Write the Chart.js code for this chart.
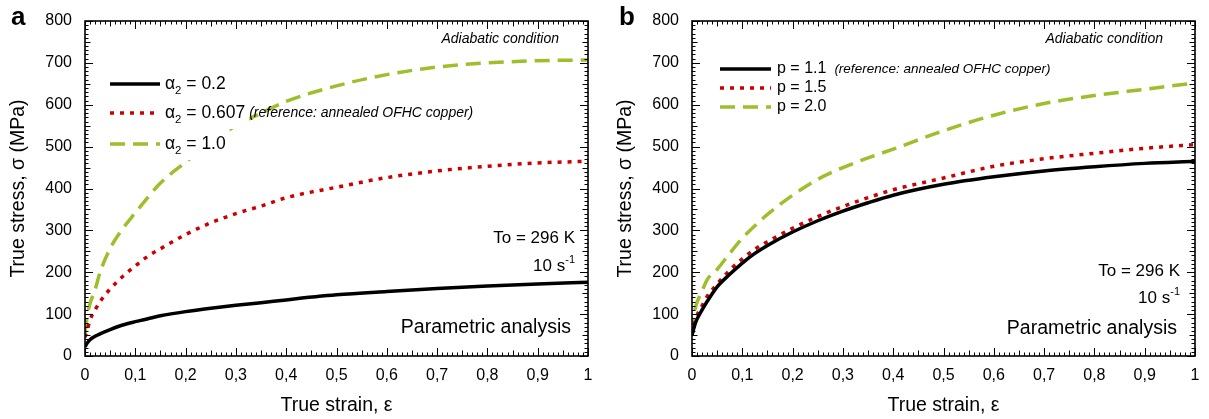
<!DOCTYPE html>
<html>
<head>
<meta charset="utf-8">
<script src="https://cdn.jsdelivr.net/npm/chart.js@4.4.0/dist/chart.umd.min.js"></script>
<style>
html, body { margin: 0; padding: 0; background: #fff; }
#wrap { position: relative; width: 1209px; height: 419px; }
.pane { position: absolute; top: 0; height: 419px; }
</style>
</head>
<body>
<div id="wrap">
    <div class="pane" style="left:0;width:604px"><canvas id="chartA"></canvas></div>
    <div class="pane" style="left:604px;width:605px"><canvas id="chartB"></canvas></div>
</div>
<script>
// strain points shared by all curves
const strain = [0, 0.005, 0.01, 0.02, 0.03, 0.05, 0.075, 0.1, 0.125, 0.15, 0.2, 0.25, 0.3, 0.35, 0.4, 0.5, 0.6, 0.7, 0.8, 0.9, 1.0];

// panel a: alpha2 parametric study (MPa)
const aAlpha02   = [22, 32, 39, 47, 53, 63, 74, 82, 89, 96, 106, 114, 121, 127, 134, 146, 154, 161, 167, 172, 176];
const aAlpha0607 = [45, 64, 86, 110, 130, 160, 190, 215, 238, 256, 290, 318, 340, 358, 378, 403, 426, 442, 453, 461, 465];
const aAlpha1    = [55, 100, 125, 158, 200, 257, 304, 342, 379, 413, 463, 510, 550, 580, 608, 645, 672, 690, 700, 705, 707];

// panel b: p parametric study (MPa)
const bP11 = [50, 72, 88, 110, 130, 165, 195, 222, 245, 264, 296, 323, 346, 366, 384, 410, 428, 442, 452, 460, 465];
const bP15 = [50, 78, 97, 120, 142, 172, 205, 232, 255, 273, 305, 333, 357, 378, 397, 425, 453, 471, 484, 496, 505];
const bP20 = [55, 105, 128, 155, 182, 207, 245, 281, 311, 338, 384, 422, 450, 473, 494, 538, 575, 603, 622, 637, 652];

const xTicks = [0, 0.1, 0.2, 0.3, 0.4, 0.5, 0.6, 0.7, 0.8, 0.9, 1];
const yTicks = [0, 100, 200, 300, 400, 500, 600, 700, 800];

const FONT = '"Liberation Sans", Arial, sans-serif';
const BLACK = '#000000', RED = '#cc0000', GREEN = '#9cbf2b';

const styles = [
    { color: BLACK, dash: [] },
    { color: RED, dash: [4, 6] },
    { color: GREEN, dash: [15, 8] }
];

function toPoints(ys) {
    return strain.map((x, i) => ({ x, y: ys[i] }));
}

function makeSets(series) {
    return series.map((s, i) => ({
        data: toPoints(s),
        borderColor: styles[i].color,
        borderDash: styles[i].dash,
        borderWidth: 3.5,
        borderCapStyle: 'butt',
        pointRadius: 0,
        fill: false,
        cubicInterpolationMode: 'monotone'
    }));
}

// frame, inward ticks, legend and notes
const deco = {
    id: 'deco',
    afterDatasetsDraw(chart, args, o) {
        const ctx = chart.ctx;
        const { left, right, top, bottom } = chart.chartArea;
        const xs = chart.scales.x, ys = chart.scales.y;
        ctx.save();

        // legend rows (white patch behind line + label, note drawn over the plot)
        o.legend.forEach((it, i) => {
            const y = o.rowY[i];
            ctx.font = `${o.legFont}px ${FONT}`;
            let w = 0;
            if (it.sym) {
                w += ctx.measureText(it.sym).width;
                ctx.font = `${o.legFont * 0.65}px ${FONT}`;
                w += ctx.measureText(it.sub).width;
                ctx.font = `${o.legFont}px ${FONT}`;
            }
            w += ctx.measureText(it.text).width;
            ctx.fillStyle = '#fff';
            ctx.fillRect(o.lineX0 - 2, y - o.boxH / 2, o.textX - o.lineX0 + w + 6, o.boxH);

            ctx.beginPath();
            ctx.strokeStyle = styles[i].color;
            ctx.lineWidth = 3.5;
            ctx.lineCap = 'butt';
            ctx.setLineDash(styles[i].dash);
            ctx.moveTo(o.lineX0, y);
            ctx.lineTo(o.lineX1, y);
            ctx.stroke();
            ctx.setLineDash([]);

            ctx.fillStyle = '#000';
            ctx.textBaseline = 'middle';
            ctx.textAlign = 'left';
            let x = o.textX;
            ctx.font = `${o.legFont}px ${FONT}`;
            if (it.sym) {
                ctx.fillText(it.sym, x, y);
                x += ctx.measureText(it.sym).width;
                ctx.font = `${o.legFont * 0.65}px ${FONT}`;
                ctx.fillText(it.sub, x, y + 7);
                x += ctx.measureText(it.sub).width;
                ctx.font = `${o.legFont}px ${FONT}`;
            }
            ctx.fillText(it.text, x, y);
            x += ctx.measureText(it.text).width;
            if (it.note) {
                ctx.font = `italic ${o.noteFont}px ${FONT}`;
                ctx.fillText(it.note, x + o.noteGap, y);
            }
        });

        // ticks on all four sides, pointing in
        ctx.strokeStyle = '#000';
        ctx.lineWidth = 1;
        ctx.beginPath();
        for (let k = 0; k <= 100; k++) {
            const px = Math.round(xs.getPixelForValue(k / 100)) + 0.5;
            const len = k % 10 === 0 ? 8 : (k % 5 === 0 ? 5.5 : 3.5);
            ctx.moveTo(px, bottom); ctx.lineTo(px, bottom - len);
            ctx.moveTo(px, top); ctx.lineTo(px, top + len);
        }
        for (let v = 0; v <= 800; v += 10) {
            const py = Math.round(ys.getPixelForValue(v)) + 0.5;
            const len = v % 100 === 0 ? 8 : (v % 50 === 0 ? 5.5 : 3.5);
            ctx.moveTo(left, py); ctx.lineTo(left + len, py);
            ctx.moveTo(right, py); ctx.lineTo(right - len, py);
        }
        ctx.stroke();

        ctx.lineWidth = 1.6;
        ctx.strokeRect(left, top, right - left, bottom - top);

        // notes
        ctx.fillStyle = '#000';
        ctx.textBaseline = 'middle';
        ctx.textAlign = 'right';
        ctx.font = `italic 14px ${FONT}`;
        ctx.fillText('Adiabatic condition', o.adiaX, 39);
        ctx.font = `17px ${FONT}`;
        ctx.fillText('To = 296 K', o.noteX, o.toY);
        ctx.font = `11px ${FONT}`;
        const supW = ctx.measureText('-1').width;
        ctx.fillText('-1', o.noteX, o.rateY - 6);
        ctx.font = `17px ${FONT}`;
        ctx.fillText('10 s', o.noteX - supW, o.rateY);
        ctx.font = `19.5px ${FONT}`;
        ctx.fillText('Parametric analysis', o.paraX, o.paraY);

        // panel letter
        ctx.textAlign = 'left';
        ctx.textBaseline = 'alphabetic';
        ctx.font = `bold 26px ${FONT}`;
        ctx.fillText(o.letter, o.letterX, 25);
        ctx.restore();
    }
};

function makeChart(id, series, yWidth, titlePad, padRight, decoOpts) {
    return new Chart(document.getElementById(id), {
        type: 'line',
        data: { datasets: makeSets(series) },
        plugins: [deco],
        options: {
            responsive: true,
            maintainAspectRatio: false,
            animation: false,
            layout: { padding: { top: 21, right: padRight, left: 0, bottom: 0 } },
            plugins: { legend: { display: false }, tooltip: { enabled: false }, deco: decoOpts },
            scales: {
                x: {
                    type: 'linear', min: 0, max: 1,
                    afterBuildTicks: s => { s.ticks = xTicks.map(v => ({ value: v })); },
                    afterFit: s => { s.height = 63; },
                    grid: { display: false },
                    border: { display: false },
                    ticks: {
                        padding: 2, color: '#000', font: { family: FONT, size: 16 },
                        maxRotation: 0, autoSkip: false,
                        callback: v => (v === 0 || v === 1) ? String(v) : v.toFixed(1).replace('.', ',')
                    },
                    title: {
                        display: true, text: 'True strain, ε', color: '#000',
                        font: { family: FONT, size: 19.5 }, padding: { top: 0, bottom: 2 }
                    }
                },
                y: {
                    type: 'linear', min: 0, max: 800,
                    afterBuildTicks: s => { s.ticks = yTicks.map(v => ({ value: v })); },
                    afterFit: s => { s.width = yWidth; },
                    grid: { display: false },
                    border: { display: false },
                    ticks: { padding: 5, color: '#000', font: { family: FONT, size: 16 } },
                    title: {
                        display: true, text: 'True stress, σ (MPa)', color: '#000',
                        font: { family: FONT, size: 19.5 }, padding: { top: titlePad, bottom: 0 }
                    }
                }
            }
        }
    });
}

makeChart('chartA', [aAlpha02, aAlpha0607, aAlpha1], 85, 7.3, 16, {
    letter: 'a', letterX: 11,
    legend: [
        { sym: 'α', sub: '2', text: ' = 0.2' },
        { sym: 'α', sub: '2', text: ' = 0.607', note: '(reference: annealed OFHC copper)' },
        { sym: 'α', sub: '2', text: ' = 1.0' }
    ],
    rowY: [84, 113, 144], lineX0: 110, lineX1: 160, textX: 165, boxH: 32,
    legFont: 17.5, noteFont: 14, noteGap: 4,
    adiaX: 559, noteX: 575, toY: 238, rateY: 266, paraX: 571, paraY: 328
});

makeChart('chartB', [bP11, bP15, bP20], 88, 10.3, 14, {
    letter: 'b', letterX: 15,
    legend: [
        { text: 'p = 1.1', note: '(reference: annealed OFHC copper)' },
        { text: 'p = 1.5' },
        { text: 'p = 2.0' }
    ],
    rowY: [69, 88, 107], lineX0: 116, lineX1: 167, textX: 173, boxH: 19,
    legFont: 16, noteFont: 13.5, noteGap: 8,
    adiaX: 559, noteX: 576, toY: 271, rateY: 298, paraX: 573, paraY: 329
});
</script>
</body>
</html>
